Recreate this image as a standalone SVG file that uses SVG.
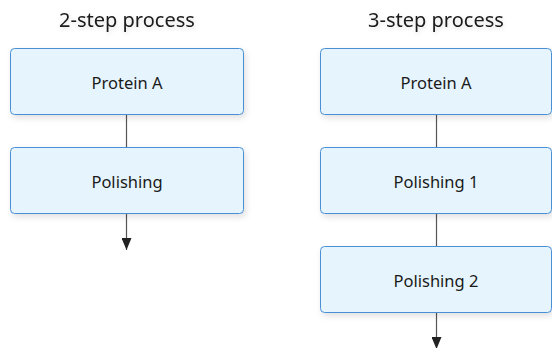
<svg xmlns="http://www.w3.org/2000/svg" width="552" height="348" viewBox="0 0 552 348">
<defs>
<filter id="sh" x="-10%" y="-20%" width="125%" height="160%">
<feDropShadow dx="2" dy="3" stdDeviation="3" flood-color="#000" flood-opacity="0.12"/>
</filter>
<filter id="tsh" x="-10%" y="-40%" width="120%" height="200%">
<feDropShadow dx="1" dy="2" stdDeviation="2" flood-color="#000" flood-opacity="0.12"/>
</filter>
<marker id="arr" viewBox="0 0 12 10" refX="12" refY="5" markerWidth="12" markerHeight="10" markerUnits="userSpaceOnUse" orient="auto">
<path d="M0,0 L12,5 L0,10 Z" fill="#222"/>
</marker>
</defs>
<style>
.box{fill:#e6f5fd;stroke:#4a8fd6;stroke-width:1;filter:url(#sh)}
.lbl{font-family:"Noto Sans","Open Sans",sans-serif;font-size:16.5px;fill:#1a1a1a;text-anchor:middle;dominant-baseline:central}
.title{font-family:"Noto Sans","Open Sans",sans-serif;font-size:20px;fill:#1a1a1a;text-anchor:middle;filter:url(#tsh)}
.ln{stroke:#555;stroke-width:1.2;fill:none}
</style>
<text class="title" x="127" y="27">2-step process</text>
<text class="title" x="436" y="27">3-step process</text>
<g id="connectors">
<line class="ln" x1="126.5" y1="115" x2="126.5" y2="147"/>
<line class="ln" x1="126.5" y1="213" x2="126.5" y2="250" marker-end="url(#arr)"/>
<line class="ln" x1="436.5" y1="115" x2="436.5" y2="147"/>
<line class="ln" x1="436.5" y1="213" x2="436.5" y2="246"/>
<line class="ln" x1="436.5" y1="312" x2="436.5" y2="349" marker-end="url(#arr)"/>
</g>
<g id="n2a"><rect class="box" x="10.5" y="48.5" width="233" height="66" rx="4"/><text class="lbl" x="127" y="82">Protein A</text></g>
<g id="n2b"><rect class="box" x="10.5" y="147.5" width="233" height="66" rx="4"/><text class="lbl" x="127" y="181">Polishing</text></g>
<g id="n3a"><rect class="box" x="320.5" y="48.5" width="231" height="66" rx="4"/><text class="lbl" x="436" y="82">Protein A</text></g>
<g id="n3b"><rect class="box" x="320.5" y="147.5" width="231" height="66" rx="4"/><text class="lbl" x="436" y="181">Polishing 1</text></g>
<g id="n3c"><rect class="box" x="320.5" y="246.5" width="231" height="66" rx="4"/><text class="lbl" x="436" y="280">Polishing 2</text></g>
</svg>
